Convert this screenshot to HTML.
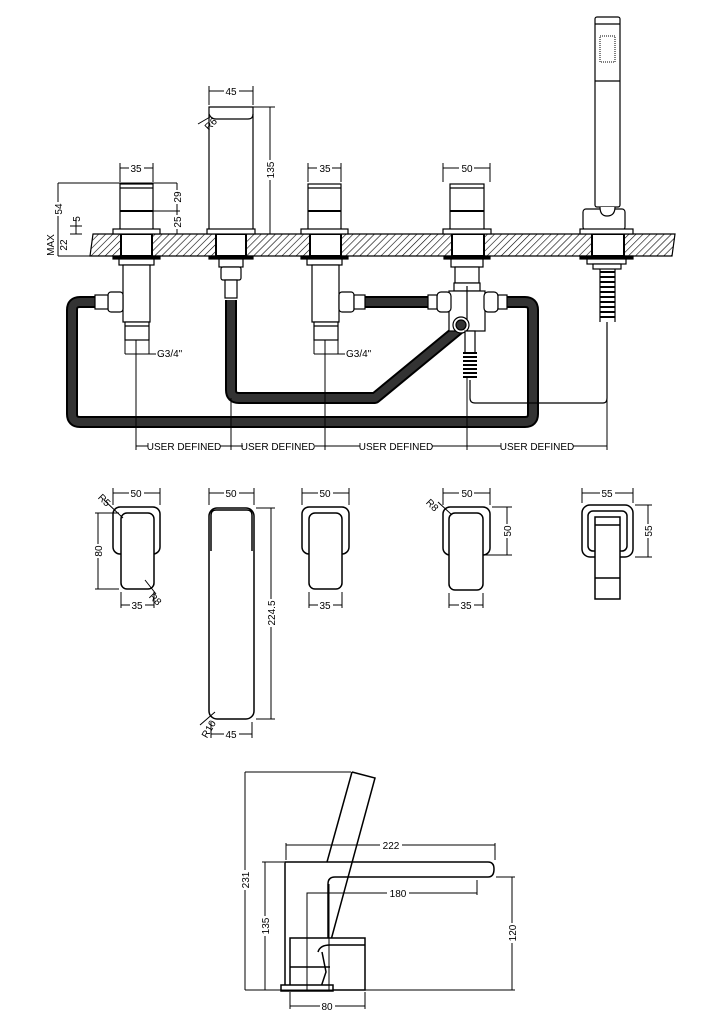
<!DOCTYPE html>
<html><head><meta charset="utf-8"><style>
html,body{margin:0;padding:0;background:#fff}
svg{display:block}
text{font-family:"Liberation Sans",sans-serif;font-size:10px;fill:#000}
</style></head><body>
<svg width="724" height="1024" viewBox="0 0 724 1024" xmlns="http://www.w3.org/2000/svg">
<defs>
<pattern id="h" width="5" height="5" patternUnits="userSpaceOnUse" patternTransform="rotate(45)">
<rect width="5" height="5" fill="#fff"/><line x1="0" y1="0" x2="0" y2="5" stroke="#000" stroke-width="1.2"/>
</pattern>
</defs>
<g fill="none" stroke="#000" stroke-width="1.2">
<path d="M93 234 L675 234 L672 256 L90 256 Z" fill="url(#h)"/>
<rect x="121" y="234" width="31" height="22" fill="#fff" stroke-width="2"/>
<rect x="216" y="234" width="30" height="22" fill="#fff" stroke-width="2"/>
<rect x="310" y="234" width="31" height="22" fill="#fff" stroke-width="2"/>
<rect x="452" y="234" width="32" height="22" fill="#fff" stroke-width="2"/>
<rect x="592" y="234" width="32" height="22" fill="#fff" stroke-width="2"/>

<g stroke="#000" stroke-width="12" stroke-linejoin="round">
<path d="M95 302 H80 Q72 302 72 310 V414 Q72 422 80 422 H525 Q533 422 533 414 V310 Q533 302 525 302 H505"/>
<path d="M231 300 V390 Q231 398 239 398 H375 L460 328"/>
<path d="M360 302 H432"/>
</g>
<g stroke="#333" stroke-width="8" stroke-linejoin="round">
<path d="M95 302 H80 Q72 302 72 310 V414 Q72 422 80 422 H525 Q533 422 533 414 V310 Q533 302 525 302 H505"/>
<path d="M231 300 V390 Q231 398 239 398 H375 L460 328"/>
<path d="M360 302 H432"/>
</g>
<path d="M470 380 V398 Q470 403 475 403 H603 Q607 403 607 398 V322"/>

<rect x="120" y="184" width="33" height="46" fill="#fff"/>
<line x1="120" y1="188" x2="153" y2="188"/>
<line x1="120" y1="211" x2="153" y2="211" stroke-width="2"/>
<rect x="113" y="229" width="47" height="5" fill="#fff"/>
<rect x="113" y="256" width="47" height="3" fill="#000"/>
<rect x="119" y="259" width="35" height="6" fill="#fff"/>
<rect x="123" y="265" width="27" height="57" fill="#fff"/>
<rect x="125" y="322" width="24" height="18" fill="#fff"/>
<line x1="125" y1="326" x2="149" y2="326"/>
<rect x="108" y="292" width="15" height="20" rx="3" fill="#fff"/>
<rect x="95" y="295" width="13" height="14" fill="#fff"/>
<rect x="308" y="184" width="33" height="46" fill="#fff"/>
<line x1="308" y1="188" x2="341" y2="188"/>
<line x1="308" y1="211" x2="341" y2="211" stroke-width="2"/>
<rect x="301" y="229" width="47" height="5" fill="#fff"/>
<rect x="301" y="256" width="47" height="3" fill="#000"/>
<rect x="307" y="259" width="35" height="6" fill="#fff"/>
<rect x="312" y="265" width="27" height="57" fill="#fff"/>
<rect x="314" y="322" width="24" height="18" fill="#fff"/>
<line x1="314" y1="326" x2="338" y2="326"/>
<rect x="339" y="292" width="15" height="20" rx="3" fill="#fff"/>
<rect x="354" y="295" width="11" height="14" fill="#fff"/>
<path d="M209 230 V107 H253 V230" fill="#fff"/>
<path d="M209 114 Q211 119 216 119 H248 Q253 119 253 114"/>
<rect x="207" y="229" width="48" height="5" fill="#fff"/>
<rect x="209" y="256" width="44" height="3" fill="#000"/>
<rect x="219" y="259" width="24" height="8" fill="#fff"/>
<rect x="221" y="267" width="20" height="13" rx="2" fill="#fff"/>
<rect x="225" y="280" width="12" height="18" fill="#fff"/>
<rect x="450" y="184" width="34" height="46" fill="#fff"/>
<line x1="450" y1="188" x2="484" y2="188"/>
<line x1="450" y1="211" x2="484" y2="211" stroke-width="2"/>
<rect x="443" y="229" width="48" height="5" fill="#fff"/>
<rect x="444" y="256" width="46" height="3" fill="#000"/>
<rect x="451" y="259" width="32" height="8" fill="#fff"/>
<rect x="455" y="267" width="24" height="16" fill="#fff"/>
<rect x="454" y="283" width="26" height="8" fill="#fff"/>
<rect x="449" y="291" width="36" height="40" fill="#fff"/>
<rect x="437" y="292" width="14" height="20" rx="4" fill="#fff"/>
<rect x="428" y="295" width="9" height="14" fill="#fff"/>
<rect x="484" y="292" width="14" height="20" rx="4" fill="#fff"/>
<rect x="498" y="295" width="9" height="14" fill="#fff"/>
<line x1="467" y1="286" x2="467" y2="331"/>
<circle cx="461" cy="325" r="8" fill="#fff"/>
<circle cx="461" cy="325" r="5" fill="#333"/>
<rect x="465" y="331" width="10" height="22" fill="#fff"/>
<path d="M463 353 h14 M463 357 h14 M463 361 h14 M463 365 h14 M463 369 h14 M463 373 h14 M463 377 h14" stroke-width="2"/>
<rect x="595" y="17" width="25" height="190" rx="2" fill="#fff"/>
<line x1="595" y1="24" x2="620" y2="24"/>
<line x1="595" y1="81" x2="620" y2="81"/>
<rect x="600" y="36" width="15" height="26" fill="none" stroke="#000" stroke-width="1" stroke-dasharray="1 1"/>
<rect x="583" y="209" width="42" height="21" rx="3" fill="#fff"/>
<path d="M600 207 Q600 216 607 216 Q615 216 615 207" fill="#fff"/>
<rect x="580" y="229" width="53" height="5" fill="#fff"/>
<rect x="580" y="256" width="53" height="3" fill="#000"/>
<rect x="587" y="259" width="39" height="5" fill="#fff"/>
<rect x="593" y="264" width="28" height="5" fill="#fff"/>
<path d="M600 272 h15 M600 277 h15 M600 282 h15 M600 287 h15 M600 292 h15 M600 297 h15 M600 302 h15 M600 307 h15 M600 312 h15 M600 317 h15" stroke-width="2"/>
<line x1="600" y1="269" x2="600" y2="322"/><line x1="615" y1="269" x2="615" y2="322"/>
</g>

<g fill="none" stroke="#000" stroke-width="1">
<path d="M120 163 V182 M153 163 V182 M120 168 H153"/>
<path d="M308 163 V182 M341 163 V182 M308 168 H341"/>
<path d="M443 163 V182 M490 163 V182 M443 168 H490"/>
<path d="M209 86 V105 M253 86 V105 M209 91 H253"/>
<path d="M253 107 H275 M270 107 V234"/>
<path d="M58 183 H177 M58 183 V256 M58 256 H92"/>
<path d="M177 183 V234 M153 211 H180"/>
<path d="M76 218 V234 M70 226 H82 M70 234 H82"/>
<path d="M198 124 L210 117"/>
<path d="M125 340 V354 M149 340 V354 M125 354 H156"/>
<path d="M314 340 V354 M338 340 V354 M314 354 H345"/>
<path d="M136 340 V450 M231 398 V450 M325 340 V450 M467 377 V450 M607 322 V450 M136 446 H607"/>
</g>
<g>
<rect x="148" y="440" width="72" height="12" fill="#fff"/>
<text x="184" y="450" text-anchor="middle">USER DEFINED</text>
<rect x="243" y="440" width="72" height="12" fill="#fff"/>
<text x="278" y="450" text-anchor="middle">USER DEFINED</text>
<rect x="360" y="440" width="72" height="12" fill="#fff"/>
<text x="396" y="450" text-anchor="middle">USER DEFINED</text>
<rect x="501" y="440" width="72" height="12" fill="#fff"/>
<text x="537" y="450" text-anchor="middle">USER DEFINED</text>
<rect x="129" y="163" width="15" height="10" fill="#fff"/><text x="136" y="172" text-anchor="middle">35</text>
<rect x="317" y="163" width="15" height="10" fill="#fff"/><text x="325" y="172" text-anchor="middle">35</text>
<rect x="459" y="163" width="15" height="10" fill="#fff"/><text x="467" y="172" text-anchor="middle">50</text>
<rect x="224" y="86" width="15" height="10" fill="#fff"/><text x="231" y="95" text-anchor="middle">45</text>
<text x="207" y="135" transform="rotate(-45 203 131)">R6</text>
<g transform="translate(274 170) rotate(-90)"><rect x="-10" y="-9" width="20" height="11" fill="#fff"/><text x="0" y="0" text-anchor="middle">135</text></g>
<g transform="translate(62 209) rotate(-90)"><rect x="-7" y="-9" width="14" height="11" fill="#fff"/><text x="0" y="0" text-anchor="middle">54</text></g>
<g transform="translate(181 197) rotate(-90)"><rect x="-7" y="-9" width="14" height="11" fill="#fff"/><text x="0" y="0" text-anchor="middle">29</text></g>
<g transform="translate(181 222) rotate(-90)"><rect x="-7" y="-9" width="14" height="11" fill="#fff"/><text x="0" y="0" text-anchor="middle">25</text></g>
<g transform="translate(80 219) rotate(-90)"><text x="0" y="0" text-anchor="middle">5</text></g>
<g transform="translate(54 245) rotate(-90)"><text x="0" y="0" text-anchor="middle">MAX</text></g>
<g transform="translate(67 245) rotate(-90)"><text x="0" y="0" text-anchor="middle">22</text></g>
<text x="157" y="357">G3/4"</text>
<text x="346" y="357">G3/4"</text>
</g>

<g fill="none" stroke="#000" stroke-width="1.5">
<rect x="113" y="507" width="47" height="47" rx="7" fill="#fff"/>
<rect x="121" y="513" width="33" height="76" rx="6" fill="#fff"/>
<rect x="302" y="507" width="47" height="47" rx="7" fill="#fff"/>
<rect x="309" y="513" width="33" height="76" rx="6" fill="#fff"/>
<rect x="443" y="507" width="47" height="48" rx="7" fill="#fff"/>
<rect x="449" y="513" width="34" height="77" rx="6" fill="#fff"/>
<rect x="209" y="508" width="45" height="211" rx="8" fill="#fff"/>
<path d="M211 551 V515 Q211 510 216 510 H247 Q252 510 252 515 V551"/>
<rect x="582" y="505" width="51" height="52" rx="8" fill="#fff"/>
<rect x="588" y="511" width="39" height="40" rx="5" fill="#fff"/>
<rect x="595" y="517" width="25" height="82" fill="#fff"/>
<line x1="595" y1="525" x2="620" y2="525"/>
<line x1="595" y1="578" x2="620" y2="578"/>
</g>
<g fill="none" stroke="#000" stroke-width="1">
<path d="M113 488 V505 M160 488 V505 M113 493 H160"/>
<path d="M302 488 V505 M349 488 V505 M302 493 H349"/>
<path d="M443 488 V505 M490 488 V505 M443 493 H490"/>
<path d="M209 488 V505 M254 488 V505 M209 493 H254"/>
<path d="M582 488 V503 M633 488 V503 M582 493 H633"/>
<path d="M121 592 V608 M154 592 V608 M121 605 H154"/>
<path d="M309 592 V608 M342 592 V608 M309 605 H342"/>
<path d="M449 593 V608 M483 593 V608 M449 605 H483"/>
<path d="M211 722 V738 M252 722 V738 M211 734 H252"/>
<path d="M95 513 H119 M95 589 H119 M98 513 V589"/>
<path d="M256 508 H275 M256 719 H275 M271 508 V719"/>
<path d="M492 507 H512 M485 555 H512 M507 507 V555"/>
<path d="M635 505 H652 M635 557 H652 M648 505 V557"/>
<path d="M104 500 L123 518 M145 580 L156 594 M438 502 L452 515 M200 725 L215 712"/>
</g>
<g>
<rect x="129" y="488" width="15" height="10" fill="#fff"/><text x="136" y="497" text-anchor="middle">50</text>
<rect x="318" y="488" width="15" height="10" fill="#fff"/><text x="325" y="497" text-anchor="middle">50</text>
<rect x="459" y="488" width="15" height="10" fill="#fff"/><text x="467" y="497" text-anchor="middle">50</text>
<rect x="224" y="488" width="15" height="10" fill="#fff"/><text x="231" y="497" text-anchor="middle">50</text>
<rect x="600" y="488" width="15" height="10" fill="#fff"/><text x="607" y="497" text-anchor="middle">55</text>
<rect x="130" y="600" width="15" height="10" fill="#fff"/><text x="137" y="609" text-anchor="middle">35</text>
<rect x="318" y="600" width="15" height="10" fill="#fff"/><text x="325" y="609" text-anchor="middle">35</text>
<rect x="459" y="600" width="15" height="10" fill="#fff"/><text x="466" y="609" text-anchor="middle">35</text>
<rect x="224" y="729" width="15" height="10" fill="#fff"/><text x="231" y="738" text-anchor="middle">45</text>
<g transform="translate(102 551) rotate(-90)"><rect x="-7" y="-9" width="14" height="11" fill="#fff"/><text x="0" y="0" text-anchor="middle">80</text></g>
<g transform="translate(275 613) rotate(-90)"><rect x="-14" y="-9" width="28" height="11" fill="#fff"/><text x="0" y="0" text-anchor="middle">224.5</text></g>
<g transform="translate(511 531) rotate(-90)"><rect x="-7" y="-9" width="14" height="11" fill="#fff"/><text x="0" y="0" text-anchor="middle">50</text></g>
<g transform="translate(652 531) rotate(-90)"><rect x="-7" y="-9" width="14" height="11" fill="#fff"/><text x="0" y="0" text-anchor="middle">55</text></g>
<text x="99" y="502" transform="rotate(45 103 498)">R5</text>
<text x="150" y="601" transform="rotate(45 154 597)">R8</text>
<text x="427" y="507" transform="rotate(45 431 503)">R8</text>
<text x="198" y="737" transform="rotate(-60 204 730)">R10</text>
</g>

<g fill="none" stroke="#000" stroke-width="1.5">
<path d="M352 772 L375 778 L331 940"/>
<path d="M352 772 L327 862"/>
<path d="M285 990 V862 H488 Q494 862 494 869 Q494 877 488 877 H335 Q328 877 328 884 V955"/>
<rect x="290" y="938" width="75" height="52" fill="#fff"/>
<line x1="290" y1="967" x2="330" y2="967"/>
<path d="M318 952 Q320 945 330 945 H365"/>
<path d="M322 952 L326 972 L320 990"/>
<rect x="281" y="985" width="52" height="6" fill="#fff"/>
<line x1="329" y1="884" x2="329" y2="990" stroke-width="1"/>
</g>
<g fill="none" stroke="#000" stroke-width="1">
<path d="M245 772 H351 M245 772 V990 M245 990 H515"/>
<path d="M286 860 V843 M495 860 V843 M286 845 H495"/>
<path d="M307 990 V893 H477 M477 880 V895"/>
<path d="M262 862 H284 M265 862 V990"/>
<path d="M496 877 H515 M512 877 V990"/>
<path d="M290 992 V1009 M365 992 V1009 M290 1006 H365"/>
</g>
<g>
<rect x="380" y="840" width="22" height="11" fill="#fff"/><text x="391" y="849" text-anchor="middle">222</text>
<rect x="387" y="888" width="22" height="11" fill="#fff"/><text x="398" y="897" text-anchor="middle">180</text>
<rect x="320" y="1001" width="15" height="11" fill="#fff"/><text x="327" y="1010" text-anchor="middle">80</text>
<g transform="translate(249 880) rotate(-90)"><rect x="-10" y="-9" width="20" height="11" fill="#fff"/><text x="0" y="0" text-anchor="middle">231</text></g>
<g transform="translate(269 926) rotate(-90)"><rect x="-10" y="-9" width="20" height="11" fill="#fff"/><text x="0" y="0" text-anchor="middle">135</text></g>
<g transform="translate(516 933) rotate(-90)"><rect x="-10" y="-9" width="20" height="11" fill="#fff"/><text x="0" y="0" text-anchor="middle">120</text></g>
</g>
</svg>
</body></html>
